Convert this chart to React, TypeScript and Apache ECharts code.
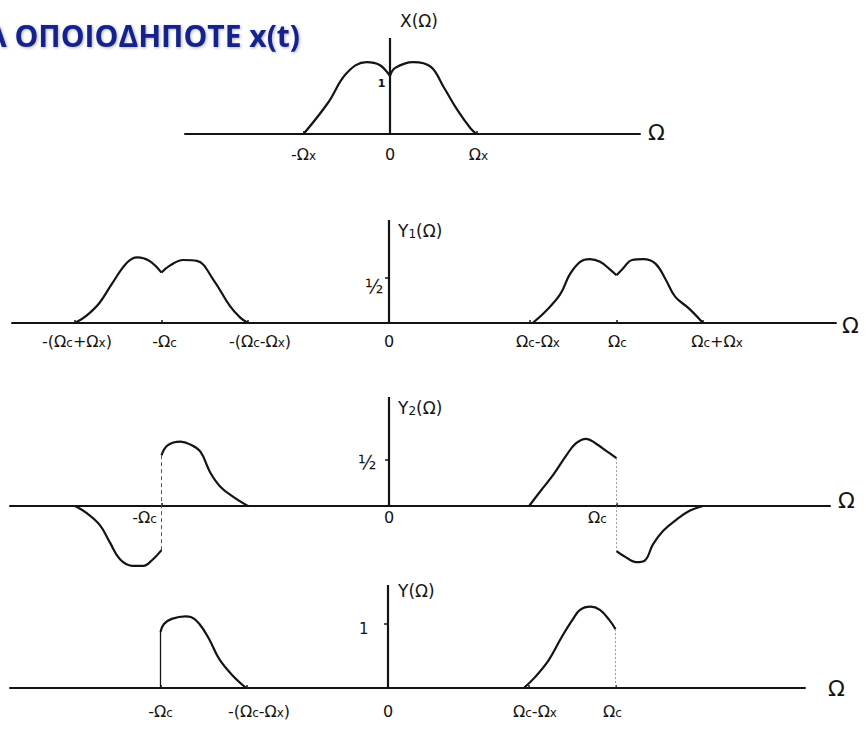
import { useEffect, useRef } from "react";
import * as echarts from "echarts";

// Frequencies are measured in units of the signal bandwidth Ωx.
const OMEGA_X = 1;
const OMEGA_C = 2.63;

type Pt = [number, number];

// X(Ω): baseband spectrum, two halves meeting in the cusp at Ω = 0
const X_LEFT: Pt[] = [[-1, 0], [-0.72, 0.53], [-0.5, 1.05], [-0.27, 1.24], [-0.12, 1.19], [0, 1]];
const X_RIGHT: Pt[] = [[0, 1], [0.06, 1.14], [0.27, 1.24], [0.47, 1.16], [0.62, 0.81], [0.78, 0.41], [0.93, 0.1], [1, 0]];

// Y1(Ω): copies of X(Ω)/2 centred on ±Ωc
const Y1_NEG_A: Pt[] = [[-3.63, 0], [-3.5, 0.08], [-3.35, 0.22], [-3.2, 0.44], [-3.03, 0.67], [-2.91, 0.73], [-2.77, 0.69], [-2.63, 0.56]];
const Y1_NEG_B: Pt[] = [[-2.63, 0.56], [-2.53, 0.64], [-2.38, 0.7], [-2.22, 0.69], [-2.03, 0.48], [-1.84, 0.19], [-1.72, 0.06], [-1.63, 0]];
const Y1_POS_A: Pt[] = [[1.66, 0], [1.82, 0.14], [1.98, 0.32], [2.09, 0.54], [2.21, 0.68], [2.32, 0.71], [2.44, 0.68], [2.56, 0.59], [2.63, 0.53]];
const Y1_POS_B: Pt[] = [[2.63, 0.53], [2.7, 0.6], [2.81, 0.7], [2.94, 0.71], [3.08, 0.66], [3.2, 0.48], [3.31, 0.29], [3.47, 0.16], [3.63, 0]];

// Y2(Ω): the quadrature branch, sign flips at ±Ωc
const Y2_NEG_LOW: Pt[] = [[-3.63, 0], [-3.49, -0.08], [-3.34, -0.21], [-3.23, -0.39], [-3.11, -0.58], [-2.97, -0.65], [-2.84, -0.65], [-2.74, -0.59], [-2.63, -0.48]];
const Y2_NEG_UP: Pt[] = [[-2.63, 0.55], [-2.56, 0.66], [-2.41, 0.7], [-2.3, 0.67], [-2.18, 0.59], [-2.07, 0.37], [-1.95, 0.21], [-1.8, 0.1], [-1.63, 0]];
const Y2_POS_UP: Pt[] = [[1.62, 0], [1.75, 0.16], [1.9, 0.34], [2.05, 0.55], [2.16, 0.68], [2.28, 0.73], [2.39, 0.68], [2.51, 0.6], [2.63, 0.52]];
const Y2_POS_LOW: Pt[] = [[2.63, -0.49], [2.71, -0.54], [2.86, -0.61], [2.96, -0.59], [3.05, -0.42], [3.17, -0.27], [3.32, -0.15], [3.48, -0.05], [3.63, 0]];

// Y(Ω) = Y1 + Y2: lower sideband only
const Y_NEG: Pt[] = [[-2.63, 0.875], [-2.59, 1.0], [-2.5, 1.08], [-2.34, 1.12], [-2.28, 1.11], [-2.18, 1.0], [-2.07, 0.77], [-1.95, 0.45], [-1.8, 0.2], [-1.64, 0]];
const Y_POS: Pt[] = [[1.57, 0], [1.7, 0.17], [1.86, 0.44], [2.01, 0.8], [2.13, 1.06], [2.22, 1.22], [2.34, 1.27], [2.45, 1.22], [2.56, 1.06], [2.63, 0.92]];

// Frequency tick positions and their labels
const TICKS_X = [-OMEGA_X, 0, OMEGA_X];
const LABELS_X = ["-Ω{s|x}", "0", "Ω{s|x}"];
const TICKS_Y1 = [-(OMEGA_C + OMEGA_X), -OMEGA_C, -(OMEGA_C - OMEGA_X), 0, OMEGA_C - OMEGA_X, OMEGA_C, OMEGA_C + OMEGA_X];
const LABELS_Y1 = ["-(Ω{s|c}+Ω{s|x})", "-Ω{s|c}", "-(Ω{s|c}-Ω{s|x})", "0", "Ω{s|c}-Ω{s|x}", "Ω{s|c}", "Ω{s|c}+Ω{s|x}"];
const TICKS_Y2 = [-OMEGA_C, 0, OMEGA_C];
const LABELS_Y2 = ["-Ω{s|c}", "0", "Ω{s|c}"];
const TICKS_Y = [-OMEGA_C, -(OMEGA_C - OMEGA_X), 0, OMEGA_C - OMEGA_X, OMEGA_C];
const LABELS_Y = ["-Ω{s|c}", "-(Ω{s|c}-Ω{s|x})", "0", "Ω{s|c}-Ω{s|x}", "Ω{s|c}"];

// Amplitude ticks
const AMP_TICKS = [1, 0.5, 0.5, 1];
const AMP_LABELS = ["1", "½", "½", "1"];
const PANEL_NAMES = ["X(Ω)", "Y{s|1}(Ω)", "Y{s|2}(Ω)", "Y(Ω)"];

const TITLE = "Α ΟΠΟΙΟΔΗΠΟΤΕ x(t)";

// ---------- layout ----------
const INK = "#141414";
const FONT = '"DejaVu Sans", sans-serif';
const PX_PER_OMEGA = 86.5;

interface Layout {
  origin: number; left: number; right: number; top: number; baseline: number; bottom: number; pxPerUnit: number;
  labelMargin: number; nudges: number[];
  ampTick: boolean; ampGap: number; ampDy: number; ampSize: number;
  nameDx: number; nameDy: number; omegaGap: number; omegaDy: number;
}

const LAYOUTS: Layout[] = [
  { origin: 390, left: 185, right: 640, top: 38, baseline: 134, bottom: 134, pxPerUnit: 58,
    labelMargin: 12, nudges: [0, 0, 2], ampTick: false, ampGap: 4, ampDy: 7, ampSize: 11,
    nameDx: 10, nameDy: -17, omegaGap: 8, omegaDy: -2 },
  { origin: 389, left: 12, right: 836, top: 220, baseline: 323, bottom: 323, pxPerUnit: 90,
    labelMargin: 10, nudges: [2, 3, 12, 0, 8, 1, 14], ampTick: true, ampGap: 5, ampDy: 8, ampSize: 19,
    nameDx: 9, nameDy: 11, omegaGap: 6, omegaDy: 2 },
  { origin: 389, left: 10, right: 830, top: 397, baseline: 506, bottom: 570, pxPerUnit: 92,
    labelMargin: -61, nudges: [-17, 0, -19], ampTick: true, ampGap: 12, ampDy: 2, ampSize: 19,
    nameDx: 9, nameDy: 11, omegaGap: 8, omegaDy: -6 },
  { origin: 388, left: 10, right: 805, top: 585, baseline: 688, bottom: 688, pxPerUnit: 64,
    labelMargin: 15, nudges: [0, 12, 0, 6, -3], ampTick: true, ampGap: 19, ampDy: 5, ampSize: 15,
    nameDx: 10, nameDy: 6, omegaGap: 23, omegaDy: 0 },
];

interface Panel { curves: Pt[][]; guides: { pts: Pt[]; style: Record<string, unknown> }[]; ticks: number[]; labels: string[]; }

const dashedGuide = { color: "#555", width: 1, type: [4, 3] };
const dottedGuide = { color: "#999", width: 1, type: [2, 2] };

const PANELS: Panel[] = [
  { curves: [X_LEFT, X_RIGHT], guides: [], ticks: TICKS_X, labels: LABELS_X },
  { curves: [Y1_NEG_A, Y1_NEG_B, Y1_POS_A, Y1_POS_B], guides: [], ticks: TICKS_Y1, labels: LABELS_Y1 },
  {
    curves: [Y2_NEG_LOW, Y2_NEG_UP, Y2_POS_UP, Y2_POS_LOW],
    guides: [
      { pts: [Y2_NEG_LOW[Y2_NEG_LOW.length - 1], Y2_NEG_UP[0]], style: dashedGuide },
      { pts: [Y2_POS_UP[Y2_POS_UP.length - 1], Y2_POS_LOW[0]], style: dottedGuide },
    ],
    ticks: TICKS_Y2, labels: LABELS_Y2,
  },
  {
    curves: [Y_NEG, Y_POS],
    guides: [
      { pts: [[Y_NEG[0][0], 0], Y_NEG[0]], style: { color: INK, width: 1.3 } },
      { pts: [Y_POS[Y_POS.length - 1], [Y_POS[Y_POS.length - 1][0], 0]], style: dottedGuide },
    ],
    ticks: TICKS_Y, labels: LABELS_Y,
  },
];

const subStyle = { fontSize: 12, fontFamily: FONT, color: INK, verticalAlign: "bottom" as const };

function spacerName(w: number) {
  return `sp${Math.round(Math.abs(w))}`;
}

function buildOption() {
  const grids: any[] = [];
  const xAxes: any[] = [];
  const yAxes: any[] = [];
  const series: any[] = [];
  const graphics: any[] = [];

  PANELS.forEach((p, i) => {
    const L = LAYOUTS[i];
    const xMin = (L.left - L.origin) / PX_PER_OMEGA;
    const xMax = (L.right - L.origin) / PX_PER_OMEGA;
    const yMax = (L.baseline - L.top) / L.pxPerUnit;
    const yMin = -(L.bottom - L.baseline) / L.pxPerUnit;

    grids.push({ left: L.left, top: L.top, width: L.right - L.left, height: L.bottom - L.top, outerBoundsMode: "none" });

    const rich: Record<string, any> = { s: subStyle };
    L.nudges.forEach((n) => {
      if (n !== 0) rich[spacerName(2 * n)] = { width: Math.abs(2 * n) };
    });

    xAxes.push({
      type: "value", gridIndex: i, min: xMin, max: xMax,
      axisLine: { show: true, onZero: true, lineStyle: { color: INK, width: 2 } },
      axisTick: { show: true, customValues: p.ticks.filter((t) => t !== 0), length: 3, inside: true, lineStyle: { color: INK, width: 1.5 } },
      splitLine: { show: false },
      axisLabel: {
        customValues: p.ticks,
        margin: L.labelMargin,
        fontSize: 16, fontFamily: FONT, color: INK,
        rich,
        formatter: (v: number) => {
          const k = p.ticks.findIndex((t) => Math.abs(t - v) < 1e-6);
          if (k < 0) return "";
          const n = L.nudges[k] || 0;
          const txt = p.labels[k];
          if (n > 0) return `{${spacerName(2 * n)}|}${txt}`;
          if (n < 0) return `${txt}{${spacerName(2 * n)}|}`;
          return txt;
        },
      },
    });

    yAxes.push({
      type: "value", gridIndex: i, min: yMin, max: yMax,
      axisLine: { show: false, onZero: true },
      splitLine: { show: false },
      axisTick: { show: L.ampTick, customValues: [AMP_TICKS[i]], length: 4, lineStyle: { color: INK, width: 1.5 } },
      axisLabel: { show: false },
    });

    const base = { type: "line", xAxisIndex: i, yAxisIndex: i, symbol: "none", silent: true, z: 3, color: INK };
    // vertical amplitude axis
    series.push({ ...base, data: [[0, 0], [0, yMax]], lineStyle: { color: INK, width: 2.2 } });
    p.curves.forEach((c) => series.push({ ...base, data: c, smooth: 0.4, lineStyle: { color: INK, width: 2.2 } }));
    p.guides.forEach((g) => series.push({ ...base, data: g.pts, lineStyle: g.style }));

    // amplitude tick label, anchored on the vertical axis
    series.push({
      type: "scatter", xAxisIndex: i, yAxisIndex: i, silent: true, color: INK,
      data: [[0, AMP_TICKS[i]]],
      symbol: "circle", symbolSize: 1, itemStyle: { color: INK, opacity: 0 },
      label: {
        show: true, position: "left", distance: L.ampGap, offset: [0, L.ampDy],
        formatter: () => AMP_LABELS[i],
        fontSize: L.ampSize, fontFamily: FONT, color: INK, opacity: 1,
        textBorderWidth: 0, fontWeight: i === 0 ? "bold" : "normal",
      },
    });

    graphics.push({
      type: "text", x: L.origin + L.nameDx, y: L.top + L.nameDy,
      style: {
        text: PANEL_NAMES[i], fill: INK, font: `17px ${FONT}`, align: "left", verticalAlign: "middle",
        rich: { s: { fontSize: 12, fontFamily: FONT, fill: INK, verticalAlign: "bottom" } },
      },
    });
    graphics.push({
      type: "text", x: L.right + L.omegaGap, y: L.baseline + L.omegaDy,
      style: { text: "Ω", fill: INK, font: `22px ${FONT}`, align: "left", verticalAlign: "middle" },
    });
  });

  graphics.push({
    type: "text", x: 300, y: 35,
    style: {
      text: TITLE, fill: "#15238c", font: `bold 30px "Open Sans", sans-serif`, align: "right", verticalAlign: "middle",
      textShadowColor: "rgba(0,0,0,0.3)", textShadowBlur: 3, textShadowOffsetX: 1, textShadowOffsetY: 1,
    },
  });

  return {
    animation: false,
    backgroundColor: "#ffffff",
    grid: grids,
    xAxis: xAxes,
    yAxis: yAxes,
    series,
    graphic: graphics,
  };
}

export default function App() {
  const ref = useRef<HTMLDivElement>(null);
  useEffect(() => {
    if (!ref.current) return;
    const chart = echarts.init(ref.current, undefined, { renderer: "svg" });
    chart.setOption(buildOption() as any);
    return () => chart.dispose();
  }, []);
  return (
    <div
      ref={ref}
      style={{ position: "absolute", left: 0, top: 0, width: 866, height: 729, background: "#fff" }}
    />
  );
}
